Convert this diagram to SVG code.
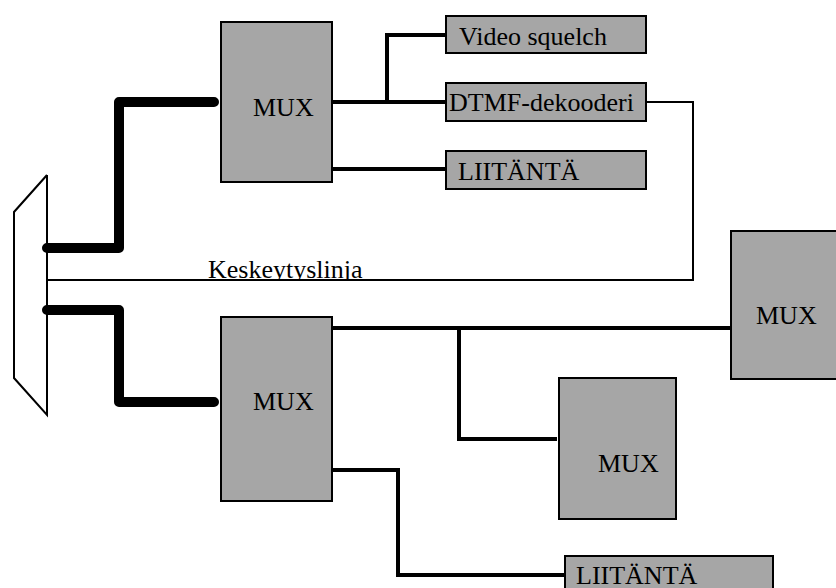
<svg xmlns="http://www.w3.org/2000/svg" width="836" height="588" viewBox="0 0 836 588">
  <style>
    .box { fill: #a6a6a6; stroke: #000; stroke-width: 2; }
    .lbl { font-family: "Liberation Serif", "Times New Roman", serif; font-size: 26px; fill: #000; }
    .bus { fill: none; stroke: #000; stroke-width: 10; stroke-linecap: round; stroke-linejoin: round; }
    .wire { fill: none; stroke: #000; stroke-width: 4; stroke-linejoin: miter; }
    .thin { fill: none; stroke: #000; stroke-width: 2; }
  </style>
  <defs>
    <clipPath id="aboveLine">
      <rect x="0" y="0" width="836" height="280"/>
    </clipPath>
  </defs>
  <rect width="836" height="588" fill="#fff"/>

  <!-- connectors -->
  <g id="connectors">
    <!-- interrupt line from the DTMF decoder back to the bus -->
    <polyline class="thin" points="646,102 693,102 693,280 47,280"/>
    <!-- wide buses from the bus plate to the two multiplexers -->
    <polyline class="bus" points="47,248 119,248 119,102 214,102"/>
    <polyline class="bus" points="47,310 119,310 119,402 214,402"/>
    <!-- upper multiplexer outputs -->
    <polyline class="wire" points="332,102 446,102"/>
    <polyline class="wire" points="387,102 387,35 446,35"/>
    <polyline class="wire" points="332,169 446,169"/>
    <!-- lower multiplexer outputs -->
    <polyline class="wire" points="332,328 731,328"/>
    <polyline class="wire" points="459,328 459,439 557,439"/>
    <polyline class="wire" points="332,470 398,470 398,575 565,575"/>
  </g>

  <!-- bus plate -->
  <g id="bus-plate">
    <polyline class="thin" points="47,175 14,212 14,378 47,415 47,175"/>
  </g>

  <text class="lbl" x="208" y="278" clip-path="url(#aboveLine)">Keskeytyslinja</text>

  <g id="mux-top">
    <rect class="box" x="221" y="22" width="111" height="160"/>
    <text class="lbl" x="253" y="116">MUX</text>
  </g>
  <g id="video-squelch">
    <rect class="box" x="446" y="16" width="200" height="37"/>
    <text class="lbl" x="459" y="45">Video squelch</text>
  </g>
  <g id="dtmf">
    <rect class="box" x="446" y="83" width="200" height="38"/>
    <text class="lbl" x="449" y="111">DTMF-dekooderi</text>
  </g>
  <g id="liitanta-top">
    <rect class="box" x="446" y="151" width="200" height="38"/>
    <text class="lbl" x="458" y="180">LIITÄNTÄ</text>
  </g>
  <g id="mux-bottom">
    <rect class="box" x="221" y="317" width="111" height="184"/>
    <text class="lbl" x="253" y="410">MUX</text>
  </g>
  <g id="mux-right">
    <rect class="box" x="731" y="231" width="120" height="148"/>
    <text class="lbl" x="756" y="324">MUX</text>
  </g>
  <g id="mux-middle">
    <rect class="box" x="559" y="378" width="117" height="141"/>
    <text class="lbl" x="598" y="472">MUX</text>
  </g>
  <g id="liitanta-bottom">
    <rect class="box" x="565" y="556" width="208" height="50"/>
    <text class="lbl" x="576" y="584">LIITÄNTÄ</text>
  </g>
</svg>
